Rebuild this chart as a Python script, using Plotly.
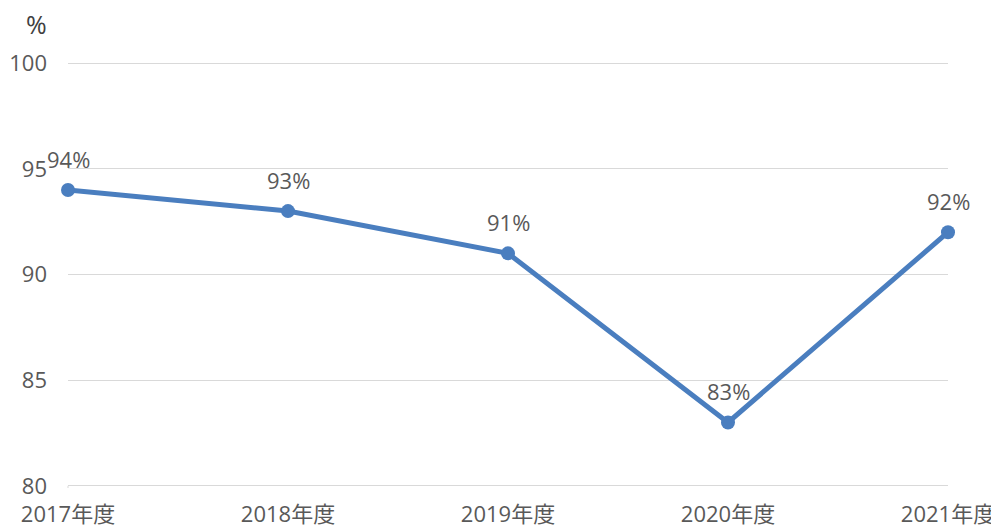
import plotly.graph_objects as go

years = ["2017年度", "2018年度", "2019年度", "2020年度", "2021年度"]
rates = [94, 93, 91, 83, 92]
label_text = ["94%", "93%", "91%", "83%", "92%"]
y_ticks = [80, 85, 90, 95, 100]

LINE = "#4A7EBF"
TXT = "#595959"
GRID = "#D9D9D9"
FONT = "Open Sans, Noto Sans CJK JP, sans-serif"
FS = 22

fig = go.Figure()
fig.add_trace(go.Scatter(
    x=list(range(len(years))), y=rates, mode="lines+markers",
    line=dict(color=LINE, width=5),
    marker=dict(color=LINE, size=14),
    cliponaxis=False, hoverinfo="skip", showlegend=False,
))

for i, (v, t) in enumerate(zip(rates, label_text)):
    fig.add_annotation(
        x=i, y=v, text=t, showarrow=False, yshift=31,
        xanchor="center", yanchor="middle",
        font=dict(size=FS, color=TXT, family=FONT),
    )

fig.add_annotation(
    xref="paper", yref="paper", x=-0.036, y=1.0, yshift=37,
    text="%", showarrow=False, xanchor="center", yanchor="middle",
    font=dict(size=25, color="#404040", family=FONT),
)

fig.add_shape(type="line", xref="x domain", yref="y",
              x0=0, x1=0, y0=80, y1=79.75, line=dict(color=GRID, width=1))

fig.update_layout(
    width=999, height=529,
    margin=dict(l=60, r=59, t=53, b=49, autoexpand=False),
    paper_bgcolor="white", plot_bgcolor="white",
    font=dict(family=FONT, size=FS, color=TXT),
    xaxis=dict(
        range=[0, len(years) - 1], automargin=False,
        tickmode="array", tickvals=list(range(len(years))), ticktext=years,
        showgrid=False, zeroline=False, showline=False,
        tickfont=dict(size=FS, color=TXT),
        ticks="outside", ticklen=7, tickcolor="rgba(0,0,0,0)",
    ),
    yaxis=dict(
        range=[79.9, 100.1], tickvals=y_ticks, automargin=False,
        showgrid=True, gridcolor=GRID, gridwidth=1,
        zeroline=False, showline=False,
        tickfont=dict(size=FS, color=TXT), ticks="", ticklabelstandoff=20,
    ),
)

fig.write_html("out.html")
